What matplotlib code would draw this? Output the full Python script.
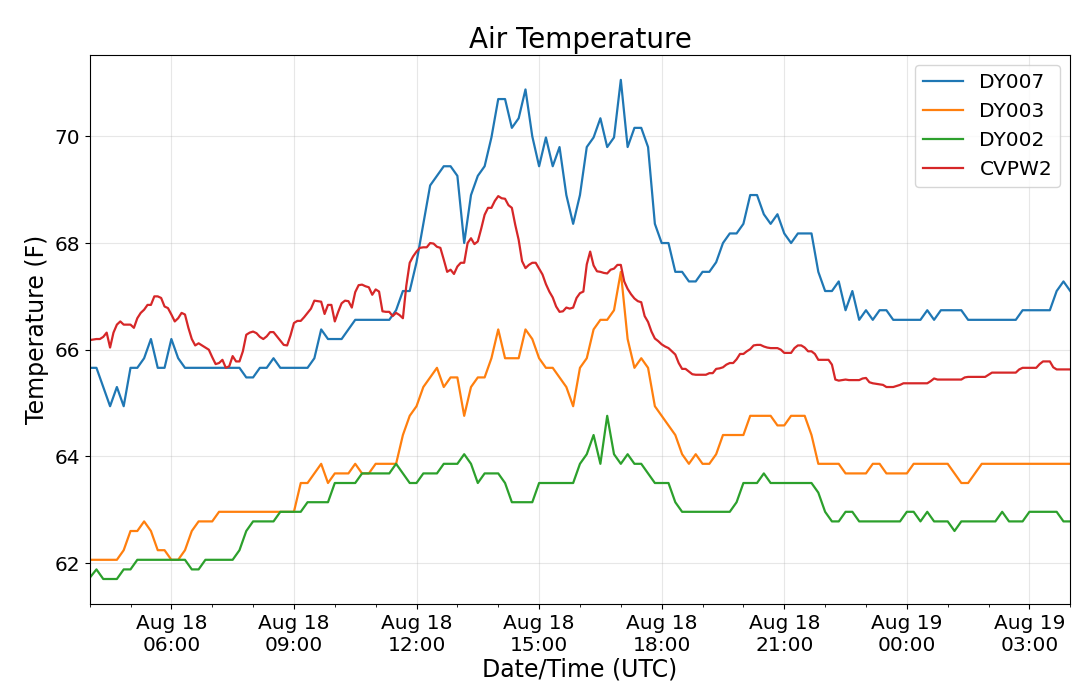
import pandas as pd
import matplotlib
matplotlib.use("Agg")
import matplotlib.pyplot as plt
import matplotlib.dates as mdates
from matplotlib.ticker import MultipleLocator

# DY stations report every 10 minutes, CVPW2 every 5 minutes (Aug 18 04:00 -> Aug 19 04:00 UTC)
start = "2018-08-18 04:00"

dy007 = [
    65.66, 65.66, 65.3, 64.94, 65.3, 64.94, 65.66, 65.66, 65.84, 66.2,
    65.66, 65.66, 66.2, 65.84, 65.66, 65.66, 65.66, 65.66, 65.66, 65.66,
    65.66, 65.66, 65.66, 65.48, 65.48, 65.66, 65.66, 65.84, 65.66, 65.66,
    65.66, 65.66, 65.66, 65.84, 66.38, 66.2, 66.2, 66.2, 66.38, 66.56,
    66.56, 66.56, 66.56, 66.56, 66.56, 66.74, 67.1, 67.1, 67.64, 68.36,
    69.08, 69.26, 69.44, 69.44, 69.26, 68.0, 68.9, 69.26, 69.44, 69.98,
    70.7, 70.7, 70.16, 70.34, 70.88, 70.0, 69.44, 69.98, 69.44, 69.8,
    68.9, 68.36, 68.9, 69.8, 69.98, 70.34, 69.8, 69.98, 71.06, 69.8,
    70.16, 70.16, 69.8, 68.36, 68.0, 68.0, 67.46, 67.46, 67.28, 67.28,
    67.46, 67.46, 67.64, 68.0, 68.18, 68.18, 68.36, 68.9, 68.9, 68.54,
    68.36, 68.54, 68.18, 68.0, 68.18, 68.18, 68.18, 67.46, 67.1, 67.1,
    67.28, 66.74, 67.1, 66.56, 66.74, 66.56, 66.74, 66.74, 66.56, 66.56,
    66.56, 66.56, 66.56, 66.74, 66.56, 66.74, 66.74, 66.74, 66.74, 66.56,
    66.56, 66.56, 66.56, 66.56, 66.56, 66.56, 66.56, 66.74, 66.74, 66.74,
    66.74, 66.74, 67.1, 67.28, 67.1,
]

dy003 = [
    62.06, 62.06, 62.06, 62.06, 62.06, 62.24, 62.6, 62.6, 62.78, 62.6,
    62.24, 62.24, 62.06, 62.06, 62.24, 62.6, 62.78, 62.78, 62.78, 62.96,
    62.96, 62.96, 62.96, 62.96, 62.96, 62.96, 62.96, 62.96, 62.96, 62.96,
    62.96, 63.5, 63.5, 63.68, 63.86, 63.5, 63.68, 63.68, 63.68, 63.86,
    63.68, 63.68, 63.86, 63.86, 63.86, 63.86, 64.4, 64.76, 64.94, 65.3,
    65.48, 65.66, 65.3, 65.48, 65.48, 64.76, 65.3, 65.48, 65.48, 65.84,
    66.38, 65.84, 65.84, 65.84, 66.38, 66.2, 65.84, 65.66, 65.66, 65.48,
    65.3, 64.94, 65.66, 65.84, 66.38, 66.56, 66.56, 66.74, 67.46, 66.2,
    65.66, 65.84, 65.66, 64.94, 64.76, 64.58, 64.4, 64.04, 63.86, 64.04,
    63.86, 63.86, 64.04, 64.4, 64.4, 64.4, 64.4, 64.76, 64.76, 64.76,
    64.76, 64.58, 64.58, 64.76, 64.76, 64.76, 64.4, 63.86, 63.86, 63.86,
    63.86, 63.68, 63.68, 63.68, 63.68, 63.86, 63.86, 63.68, 63.68, 63.68,
    63.68, 63.86, 63.86, 63.86, 63.86, 63.86, 63.86, 63.68, 63.5, 63.5,
    63.68, 63.86, 63.86, 63.86, 63.86, 63.86, 63.86, 63.86, 63.86, 63.86,
    63.86, 63.86, 63.86, 63.86, 63.86,
]

dy002 = [
    61.72, 61.88, 61.7, 61.7, 61.7, 61.88, 61.88, 62.06, 62.06, 62.06,
    62.06, 62.06, 62.06, 62.06, 62.06, 61.88, 61.88, 62.06, 62.06, 62.06,
    62.06, 62.06, 62.24, 62.6, 62.78, 62.78, 62.78, 62.78, 62.96, 62.96,
    62.96, 62.96, 63.14, 63.14, 63.14, 63.14, 63.5, 63.5, 63.5, 63.5,
    63.68, 63.68, 63.68, 63.68, 63.68, 63.86, 63.68, 63.5, 63.5, 63.68,
    63.68, 63.68, 63.86, 63.86, 63.86, 64.04, 63.86, 63.5, 63.68, 63.68,
    63.68, 63.5, 63.14, 63.14, 63.14, 63.14, 63.5, 63.5, 63.5, 63.5,
    63.5, 63.5, 63.86, 64.04, 64.4, 63.86, 64.76, 64.04, 63.86, 64.04,
    63.86, 63.86, 63.68, 63.5, 63.5, 63.5, 63.14, 62.96, 62.96, 62.96,
    62.96, 62.96, 62.96, 62.96, 62.96, 63.14, 63.5, 63.5, 63.5, 63.68,
    63.5, 63.5, 63.5, 63.5, 63.5, 63.5, 63.5, 63.32, 62.96, 62.78,
    62.78, 62.96, 62.96, 62.78, 62.78, 62.78, 62.78, 62.78, 62.78, 62.78,
    62.96, 62.96, 62.78, 62.96, 62.78, 62.78, 62.78, 62.6, 62.78, 62.78,
    62.78, 62.78, 62.78, 62.78, 62.96, 62.78, 62.78, 62.78, 62.96, 62.96,
    62.96, 62.96, 62.96, 62.78, 62.78,
]

cvpw2 = [
    66.18, 66.19, 66.2, 66.2, 66.24, 66.32, 66.04, 66.32, 66.47, 66.53,
    66.47, 66.47, 66.47, 66.41, 66.59, 66.69, 66.75, 66.84, 66.84, 67.0,
    67.0, 66.97, 66.81, 66.78, 66.66, 66.53, 66.59, 66.69, 66.66, 66.41,
    66.2, 66.08, 66.12, 66.08, 66.04, 66.0, 65.86, 65.73, 65.75, 65.81,
    65.66, 65.69, 65.88, 65.78, 65.78, 65.97, 66.28, 66.32, 66.34, 66.31,
    66.24, 66.2, 66.25, 66.33, 66.33, 66.25, 66.17, 66.09, 66.08, 66.27,
    66.5, 66.54, 66.54, 66.61, 66.69, 66.77, 66.92, 66.91, 66.9, 66.67,
    66.84, 66.84, 66.53, 66.71, 66.87, 66.92, 66.91, 66.79, 67.08, 67.21,
    67.22, 67.19, 67.17, 67.03, 67.13, 67.09, 66.72, 66.71, 66.71, 66.63,
    66.69, 66.65, 66.59, 67.2, 67.63, 67.75, 67.84, 67.91, 67.92, 67.92,
    68.0, 67.99, 67.93, 67.91, 67.69, 67.46, 67.5, 67.42, 67.56, 67.63,
    67.63, 68.0, 68.09, 67.98, 68.03, 68.27, 68.53, 68.66, 68.66, 68.79,
    68.88, 68.84, 68.83, 68.71, 68.66, 68.34, 68.06, 67.66, 67.53, 67.59,
    67.63, 67.63, 67.52, 67.41, 67.23, 67.09, 66.98, 66.81, 66.71, 66.72,
    66.79, 66.77, 66.79, 66.97, 67.06, 67.09, 67.6, 67.84, 67.58, 67.47,
    67.46, 67.44, 67.43, 67.5, 67.52, 67.59, 67.59, 67.28, 67.14, 67.04,
    66.96, 66.91, 66.89, 66.63, 66.52, 66.34, 66.21, 66.16, 66.1, 66.06,
    66.03, 65.97, 65.91, 65.75, 65.64, 65.64, 65.59, 65.54, 65.53, 65.53,
    65.53, 65.53, 65.56, 65.56, 65.64, 65.65, 65.67, 65.72, 65.75, 65.75,
    65.82, 65.92, 65.92, 65.97, 66.01, 66.08, 66.09, 66.09, 66.06, 66.04,
    66.03, 66.03, 66.03, 66.0, 65.94, 65.94, 65.94, 66.03, 66.08, 66.08,
    66.04, 65.97, 65.97, 65.92, 65.81, 65.81, 65.81, 65.81, 65.72, 65.44,
    65.42, 65.43, 65.44, 65.43, 65.43, 65.43, 65.43, 65.46, 65.47, 65.39,
    65.37, 65.36, 65.35, 65.34, 65.3, 65.3, 65.3, 65.32, 65.34, 65.37,
    65.37, 65.37, 65.37, 65.37, 65.37, 65.37, 65.37, 65.41, 65.46, 65.44,
    65.44, 65.44, 65.44, 65.44, 65.44, 65.44, 65.44, 65.48, 65.49, 65.49,
    65.49, 65.49, 65.49, 65.49, 65.53, 65.57, 65.57, 65.57, 65.57, 65.57,
    65.57, 65.57, 65.57, 65.63, 65.66, 65.66, 65.66, 65.66, 65.66, 65.73,
    65.78, 65.78, 65.78, 65.67, 65.63, 65.63, 65.63, 65.63, 65.63,
]

t_dy = pd.date_range(start, periods=len(dy007), freq="10min")
t_cv = pd.date_range(start, periods=len(cvpw2), freq="5min")

fig = plt.figure(figsize=(10.8, 6.95), dpi=100)
ax = fig.add_axes([0.083, 0.131, 0.908, 0.79])

ax.plot(t_dy, dy007, label="DY007", color="#1f77b4", lw=1.6)
ax.plot(t_dy, dy003, label="DY003", color="#ff7f0e", lw=1.6)
ax.plot(t_dy, dy002, label="DY002", color="#2ca02c", lw=1.6)
ax.plot(t_cv, cvpw2, label="CVPW2", color="#d62728", lw=1.6)

ax.set_xlim(t_dy[0], t_dy[-1])
ax.xaxis.set_major_locator(mdates.HourLocator(byhour=range(0, 24, 3)))
ax.xaxis.set_minor_locator(mdates.HourLocator())
ax.xaxis.set_major_formatter(mdates.DateFormatter("%b %d\n%H:%M"))
ax.yaxis.set_major_locator(MultipleLocator(2))

ax.tick_params(axis="both", which="major", labelsize=14.5)
ax.grid(True, color="#b0b0b0", alpha=0.3)

ax.set_title("Air Temperature", fontsize=20, pad=5)
ax.set_xlabel("Date/Time (UTC)", fontsize=17, labelpad=2)
ax.set_ylabel("Temperature (F)", fontsize=17)
ax.legend(loc="upper right", fontsize=14.5)

fig.savefig("out.png", dpi=100)
